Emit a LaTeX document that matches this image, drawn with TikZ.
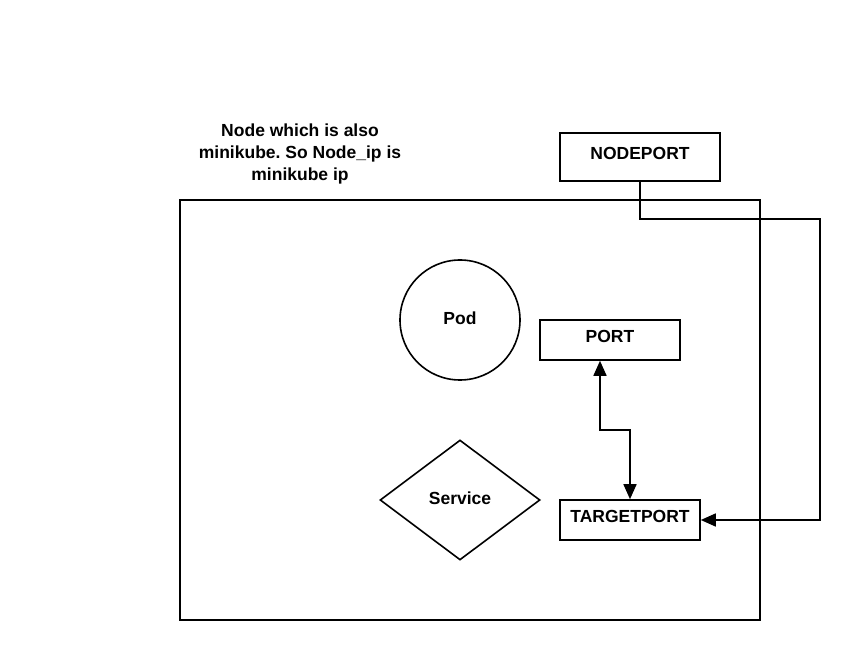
\documentclass[tikz,border=0pt]{standalone}
\usepackage{fontspec}
\setmainfont{Liberation Sans}
\usetikzlibrary{shapes.geometric,arrows.meta}
\frenchspacing

\tikzset{
    thing/.style={draw, line width=1.6pt, inner sep=0pt,
        font=\bfseries\fontsize{17.5}{20}\selectfont},
    portbox/.style={thing, rectangle, minimum width=#1, minimum height=40pt,
        text height=12pt, text depth=7pt},
    link/.style={line width=1.6pt},
    tip/.tip={Triangle[length=15pt, width=13pt]}
}

\begin{document}
\begin{tikzpicture}[x=1pt, y=-1pt]
    \useasboundingbox (0,0) rectangle (860,660);

    % Node (minikube)
    \draw[link] (180,200) rectangle (760,620);
    \node[font=\bfseries\fontsize{17.5}{22}\selectfont, align=center] (caption) at (300,154)
        {Node which is also\\minikube. So Node\_ip is\\minikube ip};

    % Pod and service
    \node[thing, circle, minimum size=120pt, text depth=3pt] (pod) at (460,320) {Pod};
    \node[thing, diamond, minimum width=160pt, minimum height=120pt, text depth=3pt] (service) at (460,500) {Service};

    % Ports
    \node[portbox=160pt, minimum height=48pt] (nodeport) at (640,157) {NODEPORT};
    \node[portbox=140pt] (port) at (610,340) {PORT};
    \node[portbox=140pt] (target) at (630,520) {TARGETPORT};

    % Connectors
    \coordinate (bend) at (615,430);
    \coordinate (outside) at (820,219);
    \draw[link, {tip}-{tip}] ([xshift=-10pt]port.south) |- (bend) -| (target.north);
    \draw[link, -{tip}] (nodeport.south) |- (outside) |- (target.east);
\end{tikzpicture}
\end{document}
